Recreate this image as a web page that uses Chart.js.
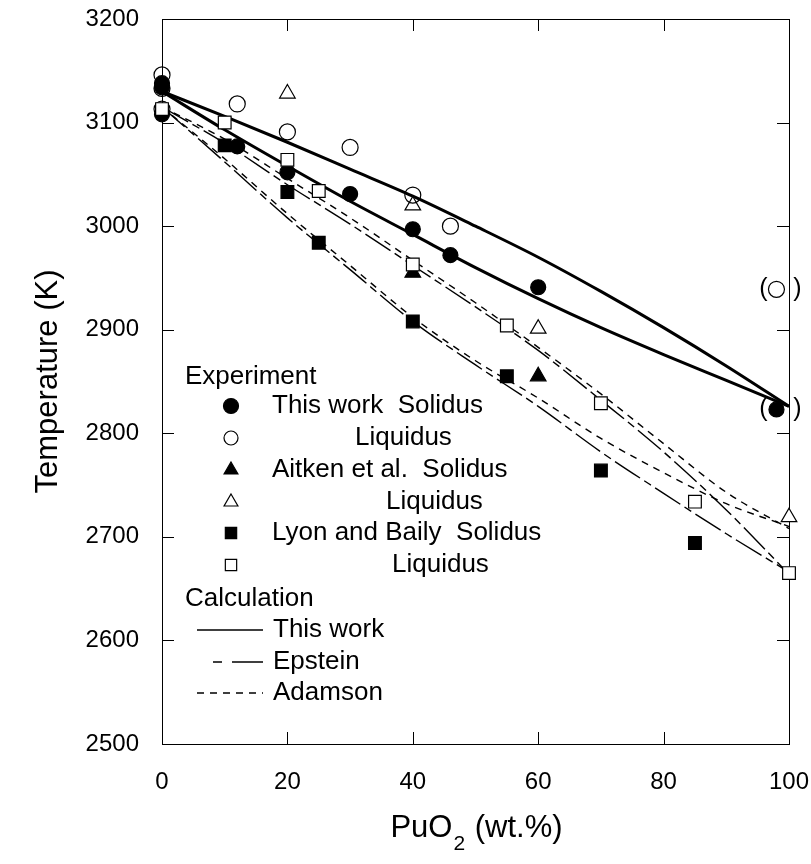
<!DOCTYPE html>
<html>
<head>
<meta charset="UTF-8">
<title>UO2-PuO2 solidus and liquidus</title>
<script src="https://cdn.jsdelivr.net/npm/chart.js@4.4.1/dist/chart.umd.min.js"></script>
<style>
  html, body { margin: 0; padding: 0; background: #fff; }
  #wrap { width: 811px; height: 864px; }
</style>
</head>
<body>
<div id="wrap"><canvas id="chart" width="811" height="864"></canvas></div>
<script>
// axes
var xTicks = [0, 20, 40, 60, 80, 100];
var yTicks = [2500, 2600, 2700, 2800, 2900, 3000, 3100, 3200];

// this work, measured
var twSolX = [0, 0, 0, 12, 20, 30, 40, 46, 60, 98];
var twSolT = [3108, 3138, 3134, 3077, 3052, 3031, 2997, 2972, 2941, 2823];
var twLiqX = [0, 0, 0, 12, 20, 30, 40, 46, 98];
var twLiqT = [3146, 3133, 3113, 3118, 3091, 3076, 3030, 3000, 2939];
// points shown in brackets
var bracketX = [98, 98];
var bracketT = [2939, 2823];

// Aitken et al.
var aitSolX = [40, 60];
var aitSolT = [2955, 2855];
var aitLiqX = [20, 40, 60, 100];
var aitLiqT = [3128, 3020, 2901, 2719];

// Lyon and Baily
var lyonSolX = [10, 20, 25, 40, 55, 70, 85];
var lyonSolT = [3078, 3033, 2984, 2908, 2855, 2764, 2694];
var lyonLiqX = [0, 10, 20, 25, 40, 55, 70, 85, 100];
var lyonLiqT = [3113, 3100, 3064, 3034, 2963, 2904, 2829, 2734, 2665];

// calculated curves
var calcX = [0, 10, 20, 30, 40, 50, 60, 70, 80, 90, 100];
var twCalcLiq = [3130, 3106, 3081, 3055, 3029, 3000, 2970, 2937, 2902, 2865, 2826];
var twCalcSol = [3130, 3093, 3058, 3024, 2992, 2960, 2930, 2902, 2876, 2851, 2826];
var epsLiq = [3115, 3080, 3040, 3002, 2962, 2922, 2880, 2832, 2782, 2726, 2664];
var epsSol = [3115, 3062, 3008, 2958, 2908, 2866, 2826, 2782, 2742, 2703, 2666];
var adaLiq = [3115, 3084, 3046, 3008, 2967, 2926, 2883, 2838, 2790, 2743, 2708];
var adaSol = [3115, 3065, 3012, 2962, 2912, 2870, 2834, 2795, 2762, 2732, 2710];

function pts(xs, ys) {
  return xs.map(function (x, i) { return { x: x, y: ys[i] }; });
}

var FONT = '"Liberation Sans", Arial, sans-serif';
var EPS_DASH = [30, 5, 8, 5];
var ADA_DASH = [7, 6];

// fill: '#000' solid, '#fff' opaque open, 'rgba(0,0,0,0)' see-through open
function markers(xs, ys, style, fill, r, order) {
  return {
    data: pts(xs, ys),
    pointStyle: style,
    pointRadius: r,
    pointHoverRadius: r,
    pointBorderWidth: 1.2,
    pointBorderColor: '#000',
    pointBackgroundColor: fill,
    showLine: false,
    clip: false,
    order: order
  };
}

function curve(ys, dash, width) {
  return {
    data: pts(calcX, ys),
    showLine: true,
    borderColor: '#000',
    borderWidth: width,
    borderDash: dash,
    pointRadius: 0,
    cubicInterpolationMode: 'monotone',
    fill: false,
    order: 5
  };
}

var datasets = [
  curve(twCalcLiq, [], 3),
  curve(twCalcSol, [], 3),
  curve(epsLiq, EPS_DASH, 1.4),
  curve(epsSol, EPS_DASH, 1.4),
  curve(adaLiq, ADA_DASH, 1.4),
  curve(adaSol, ADA_DASH, 1.4),
  markers(twSolX, twSolT, 'circle', '#000', 7.5, 4),
  markers(aitSolX, aitSolT, 'triangle', '#000', 9, 4),
  markers(lyonSolX, lyonSolT, 'rect', '#000', 9, 4),
  markers(aitLiqX, aitLiqT, 'triangle', '#fff', 9, 2),
  markers(twLiqX, twLiqT, 'circle', 'rgba(0,0,0,0)', 8, 1),
  markers(lyonLiqX, lyonLiqT, 'rect', '#fff', 9, 0)
];

// key entries inside the plot
var keyRows = [
  { head: 'Experiment', y: 377 },
  { style: 'circle', filled: true, r: 7.5, text: 'This work  Solidus', tx: 272, y: 406 },
  { style: 'circle', filled: false, r: 7, text: 'Liquidus', tx: 355, y: 438 },
  { style: 'triangle', filled: true, r: 8, text: 'Aitken et al.  Solidus', tx: 272, y: 470 },
  { style: 'triangle', filled: false, r: 8, text: 'Liquidus', tx: 386, y: 502 },
  { style: 'rect', filled: true, r: 8, text: 'Lyon and Baily  Solidus', tx: 272, y: 533 },
  { style: 'rect', filled: false, r: 8, text: 'Liquidus', tx: 392, y: 565 },
  { head: 'Calculation', y: 599 },
  { line: [], text: 'This work', y: 630 },
  { line: 'eps', text: 'Epstein', y: 662 },
  { line: ADA_DASH, text: 'Adamson', y: 693 }
];

var framePlugin = {
  id: 'frame',
  // box and inward ticks go under the markers
  beforeDatasetsDraw: function (chart) {
    var ctx = chart.ctx;
    var a = chart.chartArea;
    var xs = chart.scales.x, ys = chart.scales.y;
    ctx.save();
    ctx.strokeStyle = '#000';
    ctx.lineWidth = 1;
    ctx.strokeRect(a.left + 0.5, a.top + 0.5, a.right - a.left, a.bottom - a.top);
    var tl = 12;
    ctx.beginPath();
    xTicks.forEach(function (v) {
      var p = Math.round(xs.getPixelForValue(v)) + 0.5;
      ctx.moveTo(p, a.bottom); ctx.lineTo(p, a.bottom - tl);
      ctx.moveTo(p, a.top); ctx.lineTo(p, a.top + tl);
    });
    yTicks.forEach(function (v) {
      var p = Math.round(ys.getPixelForValue(v)) + 0.5;
      ctx.moveTo(a.left, p); ctx.lineTo(a.left + tl, p);
      ctx.moveTo(a.right, p); ctx.lineTo(a.right - tl, p);
    });
    ctx.stroke();
    ctx.restore();
  },
  afterDatasetsDraw: function (chart) {
    var ctx = chart.ctx;
    var a = chart.chartArea;
    var xs = chart.scales.x, ys = chart.scales.y;
    ctx.save();

    // brackets round the uncertain points
    ctx.fillStyle = '#000';
    ctx.font = '25px ' + FONT;
    ctx.textBaseline = 'middle';
    ctx.textAlign = 'center';
    bracketX.forEach(function (x, i) {
      var px = xs.getPixelForValue(x), py = ys.getPixelForValue(bracketT[i]);
      ctx.fillText('(', px - 13, py);
      ctx.fillText(')', px + 21, py);
    });

    // key
    ctx.textAlign = 'left';
    ctx.font = '26px ' + FONT;
    keyRows.forEach(function (row) {
      if (row.head) {
        ctx.fillText(row.head, 185, row.y);
        return;
      }
      if (row.style) {
        ctx.fillStyle = row.filled ? '#000' : '#fff';
        ctx.strokeStyle = '#000';
        ctx.lineWidth = 1.2;
        Chart.helpers.drawPoint(ctx, { pointStyle: row.style, radius: row.r, rotation: 0, borderWidth: 1.2 }, 231, row.y);
        ctx.fillStyle = '#000';
        ctx.fillText(row.text, row.tx, row.y);
        return;
      }
      ctx.strokeStyle = '#000';
      ctx.lineWidth = 1.6;
      ctx.beginPath();
      if (row.line === 'eps') {
        ctx.setLineDash([]);
        ctx.moveTo(213, row.y); ctx.lineTo(222, row.y);
        ctx.moveTo(232, row.y); ctx.lineTo(263, row.y);
      } else {
        ctx.setLineDash(row.line);
        ctx.moveTo(197, row.y); ctx.lineTo(263, row.y);
      }
      ctx.stroke();
      ctx.setLineDash([]);
      ctx.fillText(row.text, 273, row.y);
    });

    // axis titles
    ctx.font = '31px ' + FONT;
    ctx.textAlign = 'center';
    ctx.save();
    ctx.translate(48, (a.top + a.bottom) / 2);
    ctx.rotate(-Math.PI / 2);
    ctx.fillText('Temperature (K)', 0, 0);
    ctx.restore();

    var cx = (a.left + a.right) / 2;
    var ty = 828;
    var big = '31px ' + FONT, small = '21px ' + FONT;
    ctx.font = big;
    var w1 = ctx.measureText('PuO').width;
    var w3 = ctx.measureText(' (wt.%)').width;
    ctx.font = small;
    var w2 = ctx.measureText('2').width;
    var x0 = cx - (w1 + w2 + w3) / 2;
    ctx.textAlign = 'left';
    ctx.font = big;
    ctx.fillText('PuO', x0, ty);
    ctx.font = small;
    ctx.fillText('2', x0 + w1 + 1, ty + 16);
    ctx.font = big;
    ctx.fillText(' (wt.%)', x0 + w1 + w2 + 2, ty);
    ctx.restore();
  }
};

function plain(v) { return String(v); }

// keep the plot box fixed; tick labels may overhang it
function noOverhang(s) {
  s.paddingTop = 0; s.paddingBottom = 0;
  s.paddingLeft = 0; s.paddingRight = 0;
}

new Chart(document.getElementById('chart'), {
  type: 'scatter',
  data: { datasets: datasets },
  options: {
    responsive: false,
    animation: false,
    devicePixelRatio: 1,
    layout: { padding: { left: 0, top: 19, right: 22, bottom: 0 } },
    plugins: { legend: { display: false }, tooltip: { enabled: false } },
    scales: {
      x: {
        type: 'linear', min: 0, max: 100,
        grid: { display: false },
        border: { display: false },
        ticks: { stepSize: 20, color: '#000', padding: 16, callback: plain, font: { family: FONT, size: 24 }, maxRotation: 0 },
        afterFit: function (s) { s.height = 120; noOverhang(s); }
      },
      y: {
        type: 'linear', min: 2500, max: 3200,
        grid: { display: false },
        border: { display: false },
        ticks: { stepSize: 100, color: '#000', padding: 15, callback: plain, font: { family: FONT, size: 24 } },
        afterFit: function (s) { s.width = 162; noOverhang(s); }
      }
    }
  },
  plugins: [framePlugin]
});
</script>
</body>
</html>
